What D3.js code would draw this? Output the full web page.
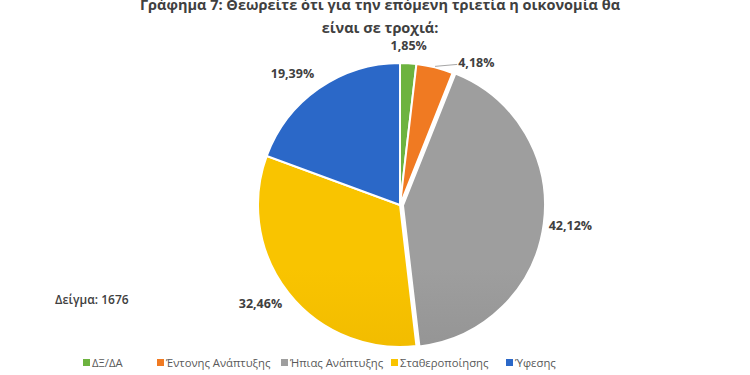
<!DOCTYPE html>
<html>
<head>
<meta charset="utf-8">
<script src="https://cdn.jsdelivr.net/npm/d3@7"></script>
<style>
  body { margin: 0; background: #fff; }
  svg { display: block; font-family: "Open Sans", "Noto Sans", sans-serif; }
</style>
</head>
<body>
<div id="chart"></div>
<script>
// Dati
const categories = ["ΔΞ/ΔΑ", "Έντονης Ανάπτυξης", "Ήπιας Ανάπτυξης", "Σταθεροποίησης", "Ύφεσης"];
const values = [1.85, 4.18, 42.12, 32.46, 19.39];
const colors = ["#6DB33F", "#F07A22", "#9E9E9E", "#F9C400", "#2B68C8"];
const darkColors = ["#4E8F28", "#C85A0C", "#7D7D7D", "#E0A800", "#1F55AE"];
const titleLines = ["Γράφημα 7: Θεωρείτε ότι για την επόμενη τριετία η οικονομία θα", "είναι σε τροχιά:"];
const sampleText = "Δείγμα: 1676";

const data = categories.map((c, i) => ({ cat: c, value: values[i], i }));

const W = 750, H = 375;
const cx = 400, cy = 205, r = 142;

const svg = d3.select("#chart").append("svg")
    .attr("width", W)
    .attr("height", H);

// gradienti
const defs = svg.append("defs");
colors.forEach((c, i) => {
    const g = defs.append("linearGradient")
        .attr("id", "grad" + i)
        .attr("gradientUnits", "userSpaceOnUse")
        .attr("x1", 0).attr("y1", cy - r)
        .attr("x2", 0).attr("y2", cy + r);
    g.append("stop").attr("offset", "0%").attr("stop-color", c);
    g.append("stop").attr("offset", "100%").attr("stop-color", darkColors[i]);
});

// Titolo
svg.append("g")
    .selectAll("text")
    .data(titleLines)
    .join("text")
    .attr("x", 380)
    .attr("y", (d, i) => 10 + i * 23)
    .attr("text-anchor", "middle")
    .attr("font-size", 14.5)
    .attr("font-weight", 700)
    .attr("fill", "#404040")
    .text(d => d);

// Torta
const pie = d3.pie().value(d => d.value).sort(null);
const arcs = pie(data);
const arc = d3.arc().innerRadius(0).outerRadius(r);

const g = svg.append("g").attr("transform", `translate(${cx},${cy})`);

function explode(d) {
    // fetta grigia leggermente staccata
    if (d.data.i !== 2) return null;
    const a = (d.startAngle + d.endAngle) / 2;
    return `translate(${Math.sin(a) * 3},${-Math.cos(a) * 3})`;
}

g.selectAll("path")
    .data(arcs)
    .join("path")
    .attr("d", arc)
    .attr("transform", explode)
    .attr("fill", d => `url(#grad${d.data.i})`)
    .attr("stroke", "#fff")
    .attr("stroke-width", 2);

// Etichette
const fmt = v => v.toFixed(2).replace(".", ",") + "%";
arcs.forEach((d, k) => {
    const a = (d.startAngle + d.endAngle) / 2;
    const s = Math.sin(a), c = Math.cos(a);
    const prevSmall = k > 0 && arcs[k - 1].data.value < 3;
    if (d.data.value < 5 && prevSmall) {
        // etichetta spostata con linea guida
        const a2 = a + 0.14;
        const lx = Math.sin(a2) * (r + 12), ly = -Math.cos(a2) * (r + 12);
        g.append("path")
            .attr("d", d3.line()([[s * (r + 1), -c * (r + 1)], [lx - 1, ly + 2]]))
            .attr("stroke", "#a6a6a6")
            .attr("fill", "none");
        g.append("text")
            .attr("x", lx)
            .attr("y", ly)
            .attr("dy", "0.35em")
            .attr("font-size", 12.5)
            .attr("font-weight", 700)
            .attr("fill", "#404040")
            .text(fmt(d.data.value));
        return;
    }
    const px = s * (r + 8), py = -c * (r + 8);
    g.append("text")
        .attr("x", px)
        .attr("y", py - c * 10)
        .attr("dy", "0.35em")
        .attr("text-anchor", s > 0.1 ? "start" : s < -0.1 ? "end" : "middle")
        .attr("font-size", 12.5)
        .attr("font-weight", 700)
        .attr("fill", "#404040")
        .text(fmt(d.data.value));
});

// Campione
svg.append("text")
    .attr("x", 55)
    .attr("y", 304)
    .attr("font-size", 12)
    .attr("font-weight", 600)
    .attr("fill", "#404040")
    .text(sampleText);

// Legenda
const legendX = d3.scaleOrdinal()
    .domain(categories)
    .range([83, 157, 281, 391, 506]);

const leg = svg.append("g")
    .selectAll("g")
    .data(data)
    .join("g")
    .attr("transform", d => `translate(${legendX(d.cat)},363)`);

leg.append("rect")
    .attr("x", 0).attr("y", -4)
    .attr("width", 7).attr("height", 7)
    .attr("fill", d => colors[d.i]);

leg.append("text")
    .attr("x", 9)
    .attr("y", 0)
    .attr("dy", "0.35em")
    .attr("font-size", 11.3)
    .attr("fill", "#595959")
    .text(d => d.cat);
</script>
</body>
</html>
